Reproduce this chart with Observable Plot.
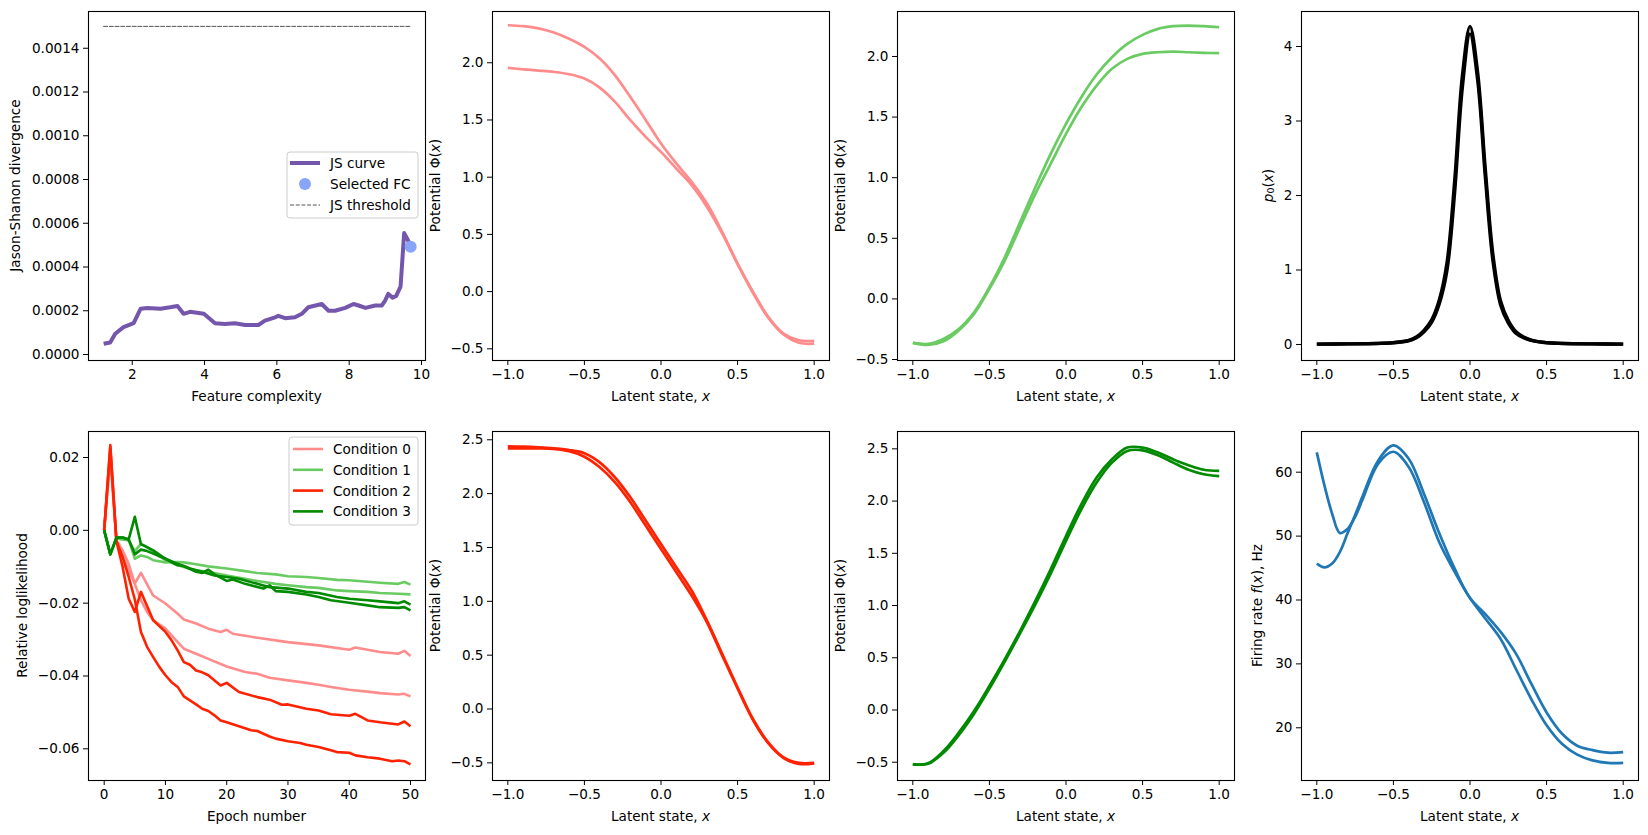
<!DOCTYPE html>
<html>
<head>
<meta charset="utf-8">
<script src="https://cdn.jsdelivr.net/npm/d3@7"></script>
<script src="https://cdn.jsdelivr.net/npm/@observablehq/plot@0.6"></script>
<style>
  body { margin: 0; background: #fff; font-family: "DejaVu Sans", sans-serif; }
  #fig { position: relative; width: 1648px; height: 835px; overflow: hidden; background: #fff; }
</style>
</head>
<body>
<div id="fig"></div>
<script>
// ---------- Jensen-Shannon curve vs feature complexity ----------
const jsFC  = [1.21, 1.39, 1.53, 1.76, 2.04, 2.23, 2.42, 2.78, 3.05, 3.25, 3.42, 3.6, 3.98, 4.29, 4.56, 4.84, 5.12, 5.49, 5.67, 5.95, 6.04, 6.23, 6.5, 6.69, 6.87, 7.24, 7.43, 7.61, 7.89, 8.12, 8.26, 8.45, 8.72, 8.9, 8.99, 9.08, 9.2, 9.3, 9.42, 9.52, 9.62, 9.7];
const jsDiv = [0.000049, 0.000055, 0.000095, 0.000125, 0.000143, 0.000209, 0.000213, 0.000209, 0.000216, 0.000222, 0.000186, 0.000195, 0.000186, 0.000143, 0.00014, 0.000143, 0.000135, 0.000135, 0.000155, 0.00017, 0.000177, 0.000166, 0.00017, 0.000186, 0.000216, 0.000231, 0.0002, 0.0002, 0.000213, 0.000231, 0.000224, 0.000213, 0.000224, 0.000224, 0.000245, 0.000277, 0.00026, 0.000268, 0.00031, 0.000555, 0.000525, 0.000493];
const selectedFC = [9.7];
const selectedJS = [0.000493];
const jsThreshold = 0.0015;
const thresholdFC = [1.21, 9.7];

// ---------- Relative loglikelihood per epoch (two fits per condition) ----------
const cond0aEpoch = [0, 1, 2, 3, 4, 5, 6, 8, 10, 12, 13, 15, 17, 19, 20, 21, 25, 30, 35, 40, 41, 45, 48, 49, 50];
const cond0aLL    = [0, 0.021, -0.003, -0.007, -0.011, -0.0146, -0.0117, -0.0179, -0.0201, -0.0229, -0.0245, -0.0256, -0.027, -0.0279, -0.0273, -0.0284, -0.0295, -0.0307, -0.0316, -0.0328, -0.0322, -0.0334, -0.0339, -0.0331, -0.0345];
const cond0bEpoch = [0, 1, 2, 3, 4, 5, 6, 7, 8, 10, 12, 13, 15, 17, 20, 23, 25, 27, 30, 33, 35, 37, 40, 43, 45, 48, 49, 50];
const cond0bLL    = [0, 0.02, -0.0027, -0.0055, -0.0092, -0.0147, -0.0192, -0.0224, -0.0247, -0.027, -0.0307, -0.0325, -0.0339, -0.0353, -0.0374, -0.0389, -0.0394, -0.0405, -0.0412, -0.0419, -0.0424, -0.043, -0.0438, -0.0443, -0.0447, -0.0451, -0.0449, -0.0456];
const cond1aEpoch = [0, 1, 2, 3, 4, 5, 6, 7, 8, 10, 12, 13, 15, 17, 20, 23, 25, 28, 30, 33, 35, 38, 40, 42, 45, 48, 49, 50];
const cond1aLL    = [0, -0.0066, -0.0022, -0.0025, -0.0025, -0.0078, -0.0069, -0.0073, -0.0082, -0.0088, -0.0087, -0.0088, -0.0093, -0.0099, -0.0105, -0.0112, -0.0117, -0.0121, -0.0126, -0.0128, -0.0131, -0.0136, -0.0137, -0.014, -0.0144, -0.0147, -0.0142, -0.0149];
const cond1bEpoch = [0, 1, 2, 3, 4, 5, 6, 7, 8, 10, 12, 15, 17, 20, 23, 25, 28, 30, 33, 35, 38, 40, 43, 45, 48, 50];
const cond1bLL    = [0, -0.0066, -0.0022, -0.0025, -0.0028, -0.0057, -0.0037, -0.0046, -0.006, -0.0082, -0.0096, -0.011, -0.0114, -0.0124, -0.0133, -0.0139, -0.0147, -0.0151, -0.0156, -0.0158, -0.0165, -0.0167, -0.0169, -0.0172, -0.0174, -0.0176];
const cond2aEpoch = [0, 1, 2, 3, 4, 5, 6, 8, 10, 11, 12, 13, 14, 15, 16, 17, 19, 20, 22, 25, 27, 29, 30, 33, 35, 37, 40, 41, 43, 45, 47, 48, 49, 50];
const cond2aLL    = [0, 0.0234, -0.003, -0.01, -0.0188, -0.0224, -0.0169, -0.0247, -0.0279, -0.0302, -0.033, -0.0362, -0.0369, -0.0385, -0.039, -0.0398, -0.0426, -0.0419, -0.0444, -0.0458, -0.0465, -0.0479, -0.0478, -0.049, -0.0495, -0.0505, -0.0509, -0.0504, -0.0522, -0.0527, -0.0531, -0.0533, -0.0525, -0.0538];
const cond2bEpoch = [0, 1, 2, 3, 4, 5, 6, 7, 8, 9, 10, 11, 12, 13, 14, 15, 16, 17, 18, 19, 20, 22, 24, 25, 27, 28, 30, 32, 33, 35, 37, 38, 40, 41, 43, 45, 47, 48, 49, 50];
const cond2bLL    = [0, 0.0228, -0.003, -0.0073, -0.0128, -0.019, -0.0279, -0.032, -0.0348, -0.0375, -0.0398, -0.0417, -0.043, -0.0456, -0.0467, -0.0478, -0.049, -0.0496, -0.0508, -0.0522, -0.0527, -0.0538, -0.0549, -0.0551, -0.0566, -0.0572, -0.0579, -0.0584, -0.0589, -0.0595, -0.0604, -0.0609, -0.0611, -0.0618, -0.0623, -0.0627, -0.0634, -0.0632, -0.0634, -0.0643];
const cond3aEpoch = [0, 1, 2, 3, 4, 5, 6, 7, 8, 10, 12, 13, 15, 16, 17, 18, 20, 21, 23, 26, 27, 28, 30, 33, 35, 37, 40, 43, 45, 48, 49, 50];
const cond3aLL    = [0, -0.0066, -0.002, -0.002, -0.0025, 0.0037, -0.0038, -0.0046, -0.0055, -0.0078, -0.0096, -0.0098, -0.0114, -0.0117, -0.0108, -0.0121, -0.0139, -0.0135, -0.0147, -0.016, -0.0151, -0.0167, -0.0169, -0.0176, -0.0183, -0.0192, -0.0199, -0.0206, -0.0211, -0.0213, -0.0211, -0.022];
const cond3bEpoch = [0, 1, 2, 3, 4, 5, 6, 7, 8, 10, 12, 14, 16, 18, 20, 22, 25, 27, 30, 33, 35, 38, 40, 43, 45, 48, 49, 50];
const cond3bLL    = [0, -0.0066, -0.002, -0.002, -0.0025, -0.0066, -0.0053, -0.0057, -0.0064, -0.0078, -0.0092, -0.0105, -0.0114, -0.0124, -0.0128, -0.0133, -0.0147, -0.0156, -0.016, -0.0169, -0.0172, -0.0183, -0.0188, -0.0192, -0.0195, -0.02, -0.0195, -0.0204];

const conditionNames  = ["Condition 0", "Condition 1", "Condition 2", "Condition 3"];
const conditionColors = ["#ff8c8c", "#6acb62", "#ff2200", "#008a00"];

// ---------- Potentials Φ(x) on the latent grid ----------
const latentX = [-1, -0.9, -0.8, -0.7, -0.6, -0.5, -0.4, -0.3, -0.2, -0.1, 0, 0.1, 0.2, 0.3, 0.4, 0.5, 0.6, 0.7, 0.8, 0.9, 1];
const phi0a = [2.328, 2.32, 2.3, 2.264, 2.21, 2.139, 2.037, 1.89, 1.7, 1.5, 1.294, 1.12, 0.96, 0.77, 0.52, 0.245, 0.0, -0.22, -0.367, -0.425, -0.43];
const phi0b = [1.955, 1.943, 1.932, 1.92, 1.9, 1.862, 1.783, 1.658, 1.498, 1.352, 1.221, 1.075, 0.93, 0.74, 0.507, 0.24, -0.01, -0.228, -0.375, -0.447, -0.455];
const phi1a = [-0.363, -0.371, -0.33, -0.248, -0.11, 0.096, 0.344, 0.633, 0.921, 1.196, 1.444, 1.664, 1.851, 1.994, 2.104, 2.178, 2.228, 2.25, 2.255, 2.25, 2.241];
const phi1b = [-0.363, -0.38, -0.35, -0.26, -0.124, 0.083, 0.316, 0.591, 0.866, 1.114, 1.361, 1.581, 1.76, 1.898, 1.98, 2.021, 2.035, 2.04, 2.035, 2.03, 2.027];
const phi2a = [2.44, 2.437, 2.43, 2.42, 2.405, 2.375, 2.29, 2.15, 1.966, 1.75, 1.532, 1.316, 1.1, 0.82, 0.511, 0.2, -0.093, -0.31, -0.449, -0.5, -0.5];
const phi2b = [2.42, 2.42, 2.42, 2.415, 2.393, 2.343, 2.245, 2.105, 1.92, 1.703, 1.486, 1.27, 1.053, 0.805, 0.495, 0.19, -0.1, -0.318, -0.455, -0.51, -0.505];
const phi3a = [-0.52, -0.51, -0.393, -0.217, -0.01, 0.23, 0.485, 0.756, 1.044, 1.347, 1.666, 1.969, 2.225, 2.4, 2.512, 2.512, 2.464, 2.4, 2.343, 2.3, 2.289];
const phi3b = [-0.52, -0.515, -0.41, -0.24, -0.035, 0.204, 0.463, 0.734, 1.012, 1.305, 1.618, 1.921, 2.177, 2.368, 2.48, 2.486, 2.439, 2.368, 2.3, 2.257, 2.239];

// ---------- Equilibrium density p0(x) ----------
const p0X = [-1, -0.8, -0.6, -0.5, -0.4, -0.35, -0.3, -0.25, -0.2, -0.15, -0.1, -0.05, 0, 0.05, 0.1, 0.15, 0.2, 0.25, 0.3, 0.35, 0.4, 0.5, 0.6, 0.8, 1];
const p0a = [0.005, 0.008, 0.015, 0.025, 0.055, 0.1, 0.19, 0.33, 0.6, 1.1, 2.2, 3.6, 4.27, 3.65, 2.35, 1.2, 0.58, 0.32, 0.17, 0.1, 0.06, 0.025, 0.015, 0.008, 0.005];
const p0b = [0.005, 0.008, 0.014, 0.023, 0.05, 0.09, 0.17, 0.3, 0.55, 1.0, 2.05, 3.45, 4.17, 3.55, 2.25, 1.12, 0.53, 0.29, 0.15, 0.09, 0.055, 0.023, 0.014, 0.008, 0.005];

// ---------- Firing rate f(x) ----------
const rateX = [-1, -0.95, -0.9, -0.85, -0.8, -0.75, -0.7, -0.6, -0.5, -0.4, -0.3, -0.2, -0.1, 0, 0.1, 0.2, 0.3, 0.4, 0.5, 0.6, 0.7, 0.8, 0.9, 1];
const rateA = [63.1, 57.9, 53.5, 50.5, 51.1, 53.0, 55.8, 61.3, 63.2, 60.8, 55.3, 49.0, 44.4, 40.3, 37.1, 33.9, 29.2, 24.5, 20.4, 17.5, 15.8, 14.9, 14.5, 14.5];
const rateB = [45.7, 45.1, 45.7, 47.5, 50.4, 53.3, 56.3, 61.8, 64.2, 62.1, 56.6, 50.4, 44.9, 40.3, 37.8, 35.0, 31.6, 26.9, 22.4, 19.1, 17.2, 16.5, 16.1, 16.2];

// ---------- helpers ----------
const FW = 337, FH = 349;               // frame size of every panel
const ML = 92, MR = 8, MT = 8, MB = 52; // margins around the frame
const fig = d3.select("#fig");

const rows = (xs, ys) => xs.map((x, i) => ({x, y: ys[i]}));

function lineMark(xs, ys, stroke, width, curve = "linear") {
  return Plot.line(rows(xs, ys), {x: "x", y: "y", stroke, strokeWidth: width, curve, strokeLinejoin: "round", strokeLinecap: "butt"});
}

// text with italic / subscript runs: parts = [[text, kind], ...]
function richText(sel, parts) {
  for (const [t, kind] of parts) {
    const ts = sel.append("tspan").text(t);
    if (kind === "i") ts.attr("font-style", "italic");
    if (kind === "sub") ts.attr("font-size", "70%").attr("baseline-shift", "-0.25em");
  }
  return sel;
}

function panel({left, top, x, y, marks, xLabel, yLabel, yLabelOffset}) {
  const svg = Plot.plot({
    width: ML + FW + MR,
    height: MT + FH + MB,
    marginLeft: ML, marginRight: MR, marginTop: MT, marginBottom: MB,
    style: {
      background: "none", fontFamily: "DejaVu Sans, sans-serif", fontSize: "13.6px",
      color: "#000", overflow: "visible", position: "absolute",
      left: (left - ML) + "px", top: (top - MT) + "px", maxWidth: "none"
    },
    x: {type: "linear", domain: x.domain, ticks: x.ticks, tickFormat: x.format, tickSize: 5, tickPadding: 4, label: null},
    y: {type: "linear", domain: y.domain, ticks: y.ticks, tickFormat: y.format, tickSize: 5, tickPadding: 4, label: null},
    marks: [...marks, Plot.frame({stroke: "#000", strokeWidth: 1.1})]
  });
  fig.node().appendChild(svg);
  const s = d3.select(svg);
  richText(s.append("text")
      .attr("x", ML + FW / 2).attr("y", MT + FH + 36)
      .attr("text-anchor", "middle").attr("dominant-baseline", "central")
      .attr("fill", "#000"), xLabel);
  richText(s.append("text")
      .attr("transform", `translate(${ML - yLabelOffset},${MT + FH / 2}) rotate(-90)`)
      .attr("text-anchor", "middle").attr("dominant-baseline", "central")
      .attr("fill", "#000"), yLabel);
  return s;
}

function legendBox(s, x0, y0, w, h) {
  s.append("rect")
    .attr("x", ML + x0).attr("y", MT + y0).attr("width", w).attr("height", h)
    .attr("rx", 3).attr("fill", "#fff").attr("fill-opacity", 0.8)
    .attr("stroke", "#cccccc").attr("stroke-width", 1);
}
function legendText(s, x, y, label) {
  s.append("text").attr("x", ML + x).attr("y", MT + y)
    .attr("text-anchor", "start").attr("dominant-baseline", "central")
    .attr("fill", "#000").text(label);
}

const fmtX = d3.format(".1f");
const latentAxis = {domain: [-1.1, 1.1], ticks: [-1, -0.5, 0, 0.5, 1], format: fmtX};
const latentLabel = [["Latent state, "], ["x", "i"]];
const phiLabel = [["Potential Φ("], ["x", "i"], [")"]];
const phiTicks = [-0.5, 0, 0.5, 1, 1.5, 2, 2.5];

const colX = [88, 492, 897, 1301];
const rowY = [11, 431];

// ---------- panel: JS divergence ----------
{
  const s = panel({
    left: colX[0], top: rowY[0],
    x: {domain: [0.791, 10.11], ticks: [2, 4, 6, 8, 10], format: d3.format("d")},
    y: {domain: [-0.0000274, 0.001568], ticks: d3.range(0, 0.00141, 0.0002), format: d3.format(".4f")},
    marks: [
      Plot.line(thresholdFC.map(x => ({x, y: jsThreshold})), {x: "x", y: "y", stroke: "#555", strokeWidth: 1, strokeDasharray: "4,1.7"}),
      lineMark(jsFC, jsDiv, "#7556ad", 4),
      Plot.dot(rows(selectedFC, selectedJS), {x: "x", y: "y", r: 6, fill: "#88a5f8", stroke: "none"})
    ],
    xLabel: [["Feature complexity"]],
    yLabel: [["Jason-Shanon divergence"]],
    yLabelOffset: 73
  });
  legendBox(s, 199, 141, 131, 66);
  s.append("line").attr("x1", ML + 202).attr("x2", ML + 232).attr("y1", MT + 152).attr("y2", MT + 152)
    .attr("stroke", "#7556ad").attr("stroke-width", 4);
  legendText(s, 242, 152, "JS curve");
  s.append("circle").attr("cx", ML + 217).attr("cy", MT + 173).attr("r", 6).attr("fill", "#88a5f8");
  legendText(s, 242, 173, "Selected FC");
  s.append("line").attr("x1", ML + 202).attr("x2", ML + 232).attr("y1", MT + 194).attr("y2", MT + 194)
    .attr("stroke", "#555").attr("stroke-width", 1).attr("stroke-dasharray", "4,1.7");
  legendText(s, 242, 194, "JS threshold");
}

// ---------- panel: relative loglikelihood ----------
{
  const s = panel({
    left: colX[0], top: rowY[1],
    x: {domain: [-2.56, 52.45], ticks: [0, 10, 20, 30, 40, 50], format: d3.format("d")},
    y: {domain: [-0.0687, 0.02714], ticks: [-0.06, -0.04, -0.02, 0, 0.02], format: d3.format(".2f")},
    marks: [
      lineMark(cond0aEpoch, cond0aLL, conditionColors[0], 2.6),
      lineMark(cond0bEpoch, cond0bLL, conditionColors[0], 2.6),
      lineMark(cond1aEpoch, cond1aLL, conditionColors[1], 2.6),
      lineMark(cond1bEpoch, cond1bLL, conditionColors[1], 2.6),
      lineMark(cond2aEpoch, cond2aLL, conditionColors[2], 2.6),
      lineMark(cond2bEpoch, cond2bLL, conditionColors[2], 2.6),
      lineMark(cond3aEpoch, cond3aLL, conditionColors[3], 2.6),
      lineMark(cond3bEpoch, cond3bLL, conditionColors[3], 2.6)
    ],
    xLabel: [["Epoch number"]],
    yLabel: [["Relative loglikelihood"]],
    yLabelOffset: 66
  });
  legendBox(s, 201, 6, 129, 88);
  conditionNames.forEach((name, i) => {
    const yy = 18 + i * 20.8;
    s.append("line").attr("x1", ML + 205).attr("x2", ML + 235).attr("y1", MT + yy).attr("y2", MT + yy)
      .attr("stroke", conditionColors[i]).attr("stroke-width", 2.6);
    legendText(s, 245, yy, name);
  });
}

// ---------- potential panels ----------
const phiWidth = 2.7;
panel({
  left: colX[1], top: rowY[0], x: latentAxis,
  y: {domain: [-0.602, 2.448], ticks: phiTicks.slice(0, 6), format: fmtX},
  marks: [lineMark(latentX, phi0a, conditionColors[0], phiWidth, "catmull-rom"), lineMark(latentX, phi0b, conditionColors[0], phiWidth, "catmull-rom")],
  xLabel: latentLabel, yLabel: phiLabel, yLabelOffset: 57
});
panel({
  left: colX[2], top: rowY[0], x: latentAxis,
  y: {domain: [-0.508, 2.371], ticks: phiTicks.slice(0, 6), format: fmtX},
  marks: [lineMark(latentX, phi1a, conditionColors[1], phiWidth, "catmull-rom"), lineMark(latentX, phi1b, conditionColors[1], phiWidth, "catmull-rom")],
  xLabel: latentLabel, yLabel: phiLabel, yLabelOffset: 57
});
panel({
  left: colX[1], top: rowY[1], x: latentAxis,
  y: {domain: [-0.664, 2.577], ticks: phiTicks, format: fmtX},
  marks: [lineMark(latentX, phi2a, conditionColors[2], phiWidth, "catmull-rom"), lineMark(latentX, phi2b, conditionColors[2], phiWidth, "catmull-rom")],
  xLabel: latentLabel, yLabel: phiLabel, yLabelOffset: 57
});
panel({
  left: colX[2], top: rowY[1], x: latentAxis,
  y: {domain: [-0.675, 2.666], ticks: phiTicks, format: fmtX},
  marks: [lineMark(latentX, phi3a, conditionColors[3], phiWidth, "catmull-rom"), lineMark(latentX, phi3b, conditionColors[3], phiWidth, "catmull-rom")],
  xLabel: latentLabel, yLabel: phiLabel, yLabelOffset: 57
});

// ---------- density p0(x) ----------
panel({
  left: colX[3], top: rowY[0], x: latentAxis,
  y: {domain: [-0.215, 4.47], ticks: [0, 1, 2, 3, 4], format: d3.format("d")},
  marks: [lineMark(p0X, p0a, "#000", 3.4, "catmull-rom"), lineMark(p0X, p0b, "#000", 3.4, "catmull-rom")],
  xLabel: latentLabel, yLabel: [["p", "i"], ["0", "sub"], ["("], ["x", "i"], [")"]], yLabelOffset: 33
});

// ---------- firing rate f(x) ----------
panel({
  left: colX[3], top: rowY[1], x: latentAxis,
  y: {domain: [11.75, 66.37], ticks: [20, 30, 40, 50, 60], format: d3.format("d")},
  marks: [lineMark(rateX, rateA, "#1f77b4", 2.7, "catmull-rom"), lineMark(rateX, rateB, "#1f77b4", 2.7, "catmull-rom")],
  xLabel: latentLabel, yLabel: [["Firing rate "], ["f", "i"], ["("], ["x", "i"], ["), Hz"]], yLabelOffset: 44
});
</script>
</body>
</html>
